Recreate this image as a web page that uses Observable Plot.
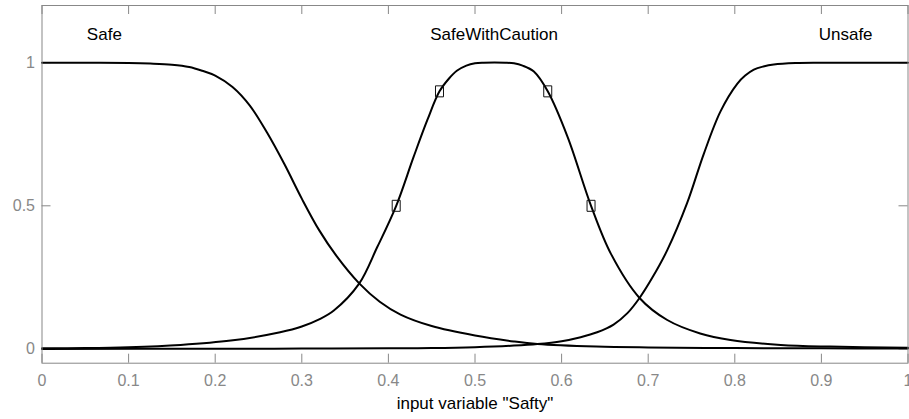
<!DOCTYPE html>
<html>
<head>
<meta charset="utf-8">
<script src="https://cdn.jsdelivr.net/npm/d3@7"></script>
<script src="https://cdn.jsdelivr.net/npm/@observablehq/plot@0.6"></script>
<style>
  html, body { margin: 0; padding: 0; background: #fff; }
  #chart { width: 909px; height: 419px; }
</style>
</head>
<body>
<div id="chart"></div>
<script>
// ---- data ----
const safeX = [0, 0.05, 0.1, 0.125, 0.15, 0.17, 0.185, 0.2, 0.22, 0.24, 0.26, 0.28, 0.3, 0.32, 0.34, 0.366, 0.39, 0.414, 0.45, 0.5, 0.545, 0.572, 0.64, 0.7, 0.8, 0.9, 1.0];
const safeY = [1, 1, 0.999, 0.997, 0.993, 0.985, 0.972, 0.955, 0.915, 0.85, 0.755, 0.645, 0.525, 0.415, 0.325, 0.23, 0.165, 0.12, 0.08, 0.047, 0.026, 0.017, 0.008, 0.005, 0.003, 0.002, 0.001];

const cautionX = [0, 0.05, 0.1, 0.16, 0.218, 0.275, 0.3, 0.32, 0.337, 0.366, 0.387, 0.409, 0.429, 0.445, 0.459, 0.47, 0.479, 0.49, 0.5, 0.51, 0.535, 0.545, 0.555, 0.568, 0.584, 0.607, 0.634, 0.657, 0.69, 0.722, 0.76, 0.795, 0.853, 0.91, 1.0];
const cautionY = [0.002, 0.003, 0.006, 0.014, 0.029, 0.058, 0.078, 0.103, 0.134, 0.227, 0.355, 0.5, 0.67, 0.8, 0.9, 0.945, 0.972, 0.99, 0.998, 1, 1, 0.998, 0.99, 0.969, 0.9, 0.74, 0.5, 0.332, 0.178, 0.101, 0.054, 0.031, 0.014, 0.008, 0.004];

const unsafeX = [0, 0.2, 0.3, 0.4, 0.45, 0.5, 0.545, 0.572, 0.6, 0.622, 0.641, 0.66, 0.676, 0.69, 0.705, 0.722, 0.745, 0.764, 0.7835, 0.803, 0.812, 0.822, 0.833, 0.845, 0.87, 0.9, 1.0];
const unsafeY = [0, 0.0005, 0.001, 0.002, 0.003, 0.006, 0.0115, 0.017, 0.027, 0.041, 0.058, 0.085, 0.125, 0.178, 0.25, 0.345, 0.51, 0.68, 0.83, 0.927, 0.955, 0.976, 0.987, 0.994, 0.999, 1, 1];

const markerX = [0.409, 0.459, 0.584, 0.634];
const markerY = [0.5, 0.9, 0.9, 0.5];

const mfNames = ["Safe", "SafeWithCaution", "Unsafe"];
const mfLabelX = [0.072, 0.522, 0.928];
const mfLabelY = [1.1, 1.1, 1.1];

const xTicks = [0, 0.1, 0.2, 0.3, 0.4, 0.5, 0.6, 0.7, 0.8, 0.9, 1];
const yTicks = [0, 0.5, 1];
const xLabel = 'input variable "Safty"';

// ---- build tables ----
const series = [
  ...safeX.map((x, i) => ({mf: "Safe", x, y: safeY[i]})),
  ...cautionX.map((x, i) => ({mf: "SafeWithCaution", x, y: cautionY[i]})),
  ...unsafeX.map((x, i) => ({mf: "Unsafe", x, y: unsafeY[i]}))
];
const markers = markerX.map((x, i) => ({x, y: markerY[i]}));
const labels = mfNames.map((name, i) => ({name, x: mfLabelX[i], y: mfLabelY[i]}));

const W = 909, H = 419;
const mL = 41.5, mR = 1.5, mT = 5, mB = 56.3;
const innerW = W - mL - mR, innerH = H - mT - mB;
const tickLen = 9;
const gray = "#888";
const font = "'Liberation Sans', Arial, Helvetica, sans-serif";

const rectSymbol = {
  draw(ctx) { ctx.rect(-4, -5.5, 8, 11); }
};

const chart = Plot.plot({
  width: W,
  height: H,
  marginLeft: mL,
  marginRight: mR,
  marginTop: mT,
  marginBottom: mB,
  style: {fontFamily: font, background: "#fff", overflow: "visible"},
  x: {domain: [0, 1]},
  y: {domain: [-0.05, 1.2]},
  marks: [
    // inward ticks on all four sides
    Plot.ruleX(xTicks, {x: d => d, stroke: gray, strokeWidth: 1, insetBottom: innerH - tickLen}),
    Plot.ruleX(xTicks, {x: d => d, stroke: gray, strokeWidth: 1, insetTop: innerH - tickLen}),
    Plot.ruleY(yTicks, {y: d => d, stroke: gray, strokeWidth: 1, insetRight: innerW - tickLen}),
    Plot.ruleY(yTicks, {y: d => d, stroke: gray, strokeWidth: 1, insetLeft: innerW - tickLen}),
    Plot.axisX({ticks: xTicks, tickSize: 0, tickPadding: 11.5, fontSize: 16, color: gray, tickFormat: d => String(d), label: null}),
    Plot.axisY({ticks: yTicks, tickSize: 0, tickPadding: 7, fontSize: 16, color: gray, tickFormat: d => String(d), label: null}),
    Plot.line(series, {x: "x", y: "y", z: "mf", stroke: "#000", strokeWidth: 2, curve: "catmull-rom"}),
    Plot.dot(markers, {x: "x", y: "y", symbol: rectSymbol, stroke: "#111", strokeWidth: 1, fill: "none"}),
    Plot.text(labels, {x: "x", y: "y", text: "name", fontSize: 17, fill: "#000"}),
    Plot.text([xLabel], {text: d => d, frameAnchor: "bottom", lineAnchor: "bottom", dy: 45.6, fontSize: 17, fill: "#000"}),
    Plot.frame({stroke: gray, strokeWidth: 1})
  ]
});

document.getElementById("chart").append(chart);
</script>
</body>
</html>
